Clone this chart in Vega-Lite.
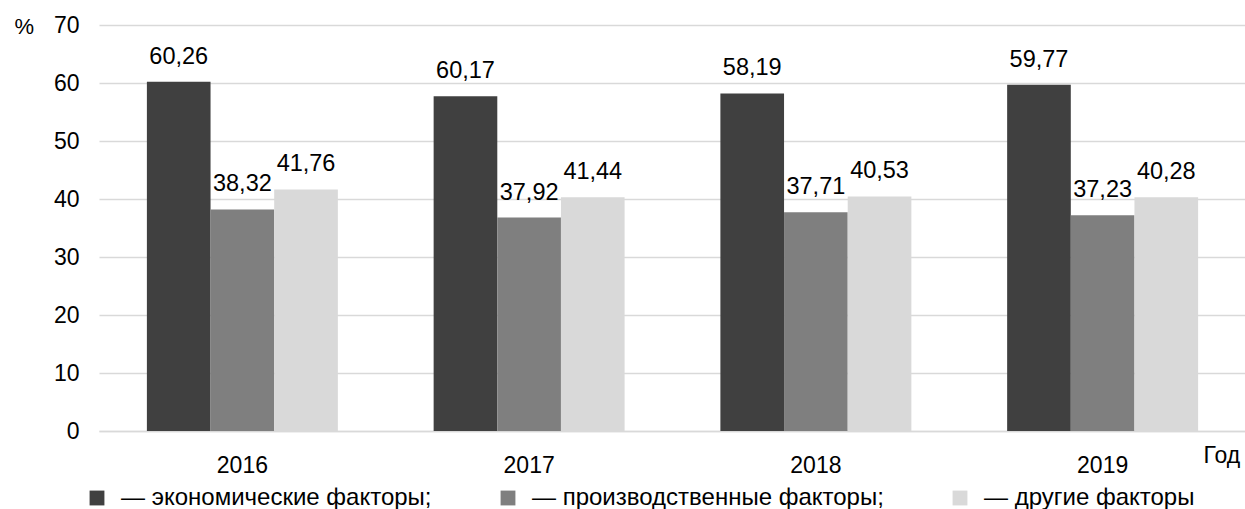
{
  "$schema": "https://vega.github.io/schema/vega-lite/v6.json",
  "autosize": {"type": "none"},
  "width": 1147,
  "height": 406,
  "padding": {"left": 99, "top": 25, "right": 0, "bottom": 78},
  "background": "white",
  "config": {
    "font": "Liberation Sans",
    "view": {"stroke": null}
  },
  "data": {
    "values": [
      {"year": "2016", "series": "экономические факторы", "value": 60.2, "label": "60,26"},
      {"year": "2016", "series": "производственные факторы", "value": 38.2, "label": "38,32"},
      {"year": "2016", "series": "другие факторы", "value": 41.65, "label": "41,76"},
      {"year": "2017", "series": "экономические факторы", "value": 57.7, "label": "60,17"},
      {"year": "2017", "series": "производственные факторы", "value": 36.8, "label": "37,92"},
      {"year": "2017", "series": "другие факторы", "value": 40.3, "label": "41,44"},
      {"year": "2018", "series": "экономические факторы", "value": 58.2, "label": "58,19"},
      {"year": "2018", "series": "производственные факторы", "value": 37.7, "label": "37,71"},
      {"year": "2018", "series": "другие факторы", "value": 40.45, "label": "40,53"},
      {"year": "2019", "series": "экономические факторы", "value": 59.7, "label": "59,77"},
      {"year": "2019", "series": "производственные факторы", "value": 37.2, "label": "37,23"},
      {"year": "2019", "series": "другие факторы", "value": 40.3, "label": "40,28"}
    ]
  },
  "encoding": {
    "x": {
      "field": "year", "type": "nominal",
      "scale": {"paddingInner": 0.334, "paddingOuter": 0.167},
      "axis": {
        "title": "Год",
        "titleFontSize": 23, "titleFontWeight": "normal", "titleColor": "black",
        "titleAnchor": "start", "titleAlign": "left", "titleBaseline": "middle",
        "titleX": 1104, "titleY": 24,
        "labelAngle": 0, "labelFontSize": 23, "labelColor": "black",
        "labelPadding": 34, "labelBaseline": "middle",
        "ticks": false, "domainColor": "#d9d9d9", "domainWidth": 1.5, "grid": false
      }
    },
    "xOffset": {
      "field": "series", "type": "nominal",
      "sort": ["экономические факторы", "производственные факторы", "другие факторы"],
      "scale": {"paddingInner": 0, "paddingOuter": 0}
    },
    "y": {
      "field": "value", "type": "quantitative",
      "scale": {"domain": [0, 70], "nice": false},
      "axis": {
        "values": [0, 10, 20, 30, 40, 50, 60, 70],
        "title": "%",
        "titleAngle": 0, "titleFontSize": 22, "titleFontWeight": "normal", "titleColor": "black",
        "titleAlign": "left", "titleBaseline": "middle", "titleX": -85, "titleY": 1,
        "labelFontSize": 23, "labelColor": "black", "labelPadding": 20,
        "ticks": false, "domain": false,
        "grid": true, "gridColor": "#d9d9d9", "gridWidth": 1.5
      }
    }
  },
  "layer": [
    {
      "mark": {"type": "bar"},
      "encoding": {
        "color": {
          "field": "series", "type": "nominal",
          "sort": ["экономические факторы", "производственные факторы", "другие факторы"],
          "scale": {
            "domain": ["экономические факторы", "производственные факторы", "другие факторы"],
            "range": ["#404040", "#7f7f7f", "#d9d9d9"]
          },
          "legend": {
            "title": null,
            "orient": "none",
            "legendX": -14,
            "legendY": 461,
            "direction": "horizontal",
            "columns": 3,
            "columnPadding": 64,
            "gridAlign": "none",
            "symbolType": "square",
            "symbolSize": 220,
            "symbolStrokeWidth": 0,
            "labelFontSize": 24,
            "labelColor": "black",
            "labelOffset": 12,
            "labelLimit": 0,
            "labelExpr": "'— ' + datum.label + (datum.label == 'другие факторы' ? '' : ';')"
          }
        }
      }
    },
    {
      "mark": {"type": "text", "fontSize": 23.5, "color": "black", "baseline": "middle", "dy": -25},
      "encoding": {
        "text": {"field": "label"}
      }
    }
  ]
}
